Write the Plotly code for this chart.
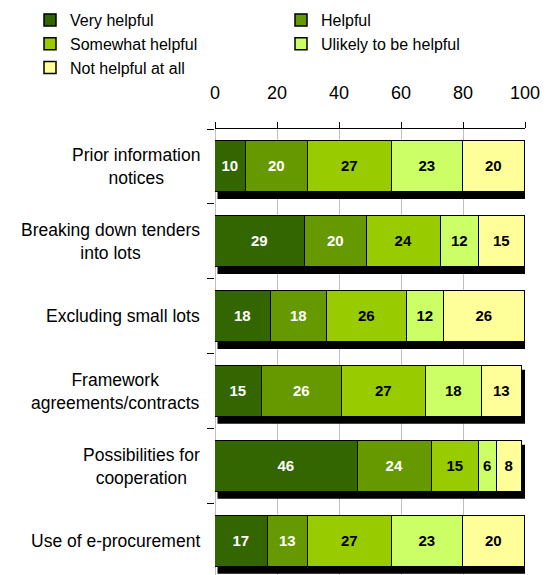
import plotly.graph_objects as go

# Survey measures (rows, top to bottom)
measures = [
    "Prior information<br>notices",
    "Breaking down tenders<br>into lots",
    "Excluding small lots",
    "Framework<br>agreements/contracts",
    "Possibilities for<br>cooperation",
    "Use of e-procurement",
]

# Share of respondents (%) per answer category
very_helpful = [10, 29, 18, 15, 46, 17]
helpful = [20, 20, 18, 26, 24, 13]
somewhat_helpful = [27, 24, 26, 27, 15, 27]
unlikely_helpful = [23, 12, 12, 18, 6, 23]
not_helpful = [20, 15, 26, 13, 8, 20]

series_names = [
    "Very helpful",
    "Helpful",
    "Somewhat helpful",
    "Ulikely to be helpful",
    "Not helpful at all",
]
series_values = [very_helpful, helpful, somewhat_helpful, unlikely_helpful, not_helpful]
series_colors = ["#336600", "#669900", "#99CC00", "#CCFF66", "#FFFF99"]
label_colors = ["white", "white", "black", "black", "black"]

x_ticks = [0, 20, 40, 60, 80, 100]

FONT = "Liberation Sans, Arial, sans-serif"
rows = list(range(len(measures)))
BAR_W = 0.68

W, H = 550, 575
M_L, M_R, M_T, M_B = 215, 25, 129, 0
plot_w = W - M_L - M_R
plot_h = H - M_T - M_B

fig = go.Figure()
for name, vals, col, tcol in zip(series_names, series_values, series_colors, label_colors):
    fig.add_trace(go.Bar(
        name=name,
        y=rows,
        x=vals,
        orientation="h",
        width=BAR_W,
        marker=dict(color=col, line=dict(color="black", width=1.5)),
        text=[str(v) for v in vals],
        textposition="inside",
        insidetextanchor="middle",
        textangle=0,
        textfont=dict(family=FONT, size=15, color=tcol, weight="bold"),
        hoverinfo="skip",
    ))

# Drop shadow behind each stacked bar, offset down and to the right
px_x = plot_w / 100.0   # pixels per percent
px_y = 75.0             # pixels per row
totals = [sum(s[i] for s in series_values) for i in rows]
shapes = []
for i, tot in zip(rows, totals):
    shapes.append(dict(
        type="rect", xref="x", yref="y", layer="between",
        x0=2.5 / px_x, x1=tot + 5 / px_x,
        y0=i - BAR_W / 2 + 4 / px_y, y1=i + BAR_W / 2 + 7 / px_y,
        fillcolor="black", line=dict(width=0),
    ))

# Row labels: centred lines, block right-aligned against the axis
annotations = []
for i, m in zip(rows, measures):
    annotations.append(dict(
        xref="paper", yref="y", x=0, y=i, xanchor="right", yanchor="middle",
        xshift=-13, text=m, align="center", showarrow=False,
        font=dict(family=FONT, size=17.5, color="black"),
    ))

fig.update_layout(
    width=W, height=H,
    margin=dict(l=M_L, r=M_R, t=M_T, b=M_B, pad=0, autoexpand=False),
    paper_bgcolor="white", plot_bgcolor="white",
    barmode="stack",
    bargap=0,
    font=dict(family=FONT, size=18, color="black"),
    shapes=shapes,
    annotations=annotations,
    showlegend=True,
    legend=dict(
        orientation="h",
        xref="paper", yref="paper",
        x=(30 - M_L) / plot_w, y=1 + (M_T - 3) / plot_h,
        xanchor="left", yanchor="top",
        entrywidth=206, entrywidthmode="pixels",
        traceorder="normal",
        bgcolor="rgba(0,0,0,0)",
        font=dict(family=FONT, size=16, color="black"),
        itemclick=False, itemdoubleclick=False,
        tracegroupgap=0,
    ),
    xaxis=dict(
        side="top",
        range=[0, 100],
        tickvals=x_ticks,
        ticks="outside", ticklen=6, tickcolor="black", tickwidth=1,
        ticklabelstandoff=16,
        tickfont=dict(family=FONT, size=18, color="black"),
        showline=True, linecolor="black", linewidth=1,
        showgrid=True, gridcolor="#c0c0c0", gridwidth=1,
        zeroline=True, zerolinecolor="#c0c0c0", zerolinewidth=1,
        fixedrange=True,
    ),
    yaxis=dict(
        range=[5.45, -0.5],
        tickvals=[r - 0.5 for r in rows],
        showticklabels=False,
        ticks="outside", ticklen=7, tickcolor="black", tickwidth=1,
        showline=False, showgrid=False, zeroline=False,
        fixedrange=True,
    ),
)

fig.write_html("out.html")
